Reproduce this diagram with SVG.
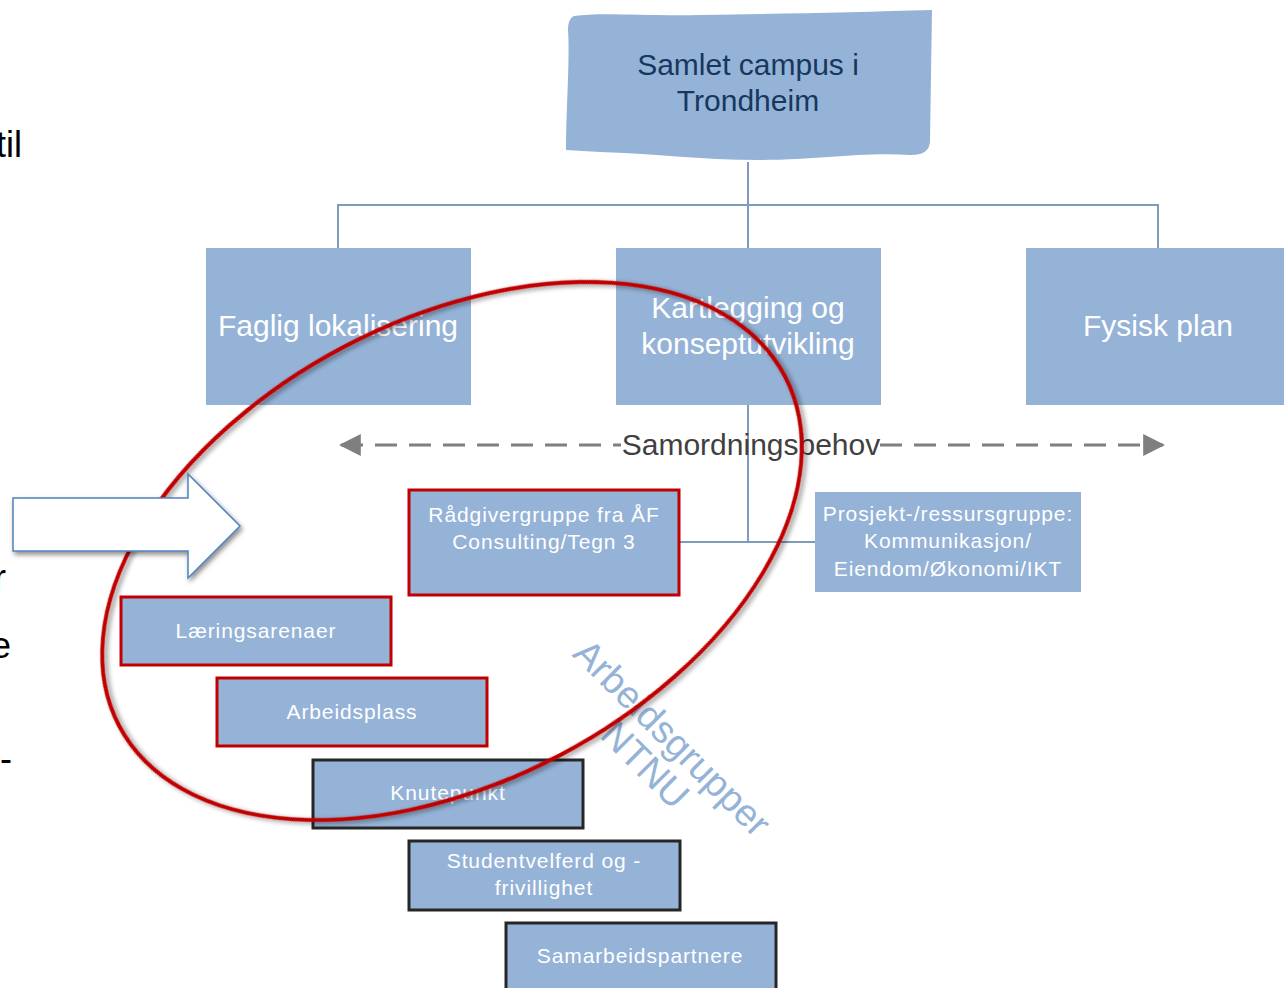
<svg xmlns="http://www.w3.org/2000/svg" width="1284" height="988" viewBox="0 0 1284 988">
<defs>
<filter id="sh" x="-20%" y="-20%" width="140%" height="140%">
<feGaussianBlur in="SourceAlpha" stdDeviation="2.5"/>
<feOffset dx="2" dy="3" result="b"/>
<feComponentTransfer><feFuncA type="linear" slope="0.45"/></feComponentTransfer>
<feMerge><feMergeNode/><feMergeNode in="SourceGraphic"/></feMerge>
</filter>
<marker id="tri" viewBox="0 0 10 10" refX="9" refY="5" markerWidth="22" markerHeight="22" markerUnits="userSpaceOnUse" orient="auto-start-reverse">
<path d="M0,0 L10,5 L0,10 Z" fill="#7F7F7F"/>
</marker>
</defs>
<style>
.box{fill:#95B3D7}
.red{fill:#95B3D7;stroke:#C00000;stroke-width:3}
.blk{fill:#95B3D7;stroke:#262626;stroke-width:3}
.conn{stroke:#7E9BBB;stroke-width:2;fill:none}
.t28{font-family:"Liberation Sans",Arial,sans-serif;font-size:30px;fill:#FFFFFF;text-anchor:middle}
.t20{font-family:"Liberation Sans",Arial,sans-serif;font-size:21px;letter-spacing:0.9px;fill:#FFFFFF;text-anchor:middle}
.side{font-family:"Liberation Sans",Arial,sans-serif;font-size:36px;fill:#000000;text-anchor:end}
</style>
<rect width="1284" height="988" fill="#FFFFFF"/>

<text class="side" x="22" y="157">til</text>
<text class="side" x="6" y="590">r</text>
<text class="side" x="11" y="658">e</text>
<text class="side" x="12" y="771">-</text>

<g id="connectors">
<line class="conn" x1="748" y1="162" x2="748" y2="248"/>
<polyline class="conn" points="338,248 338,205 1158,205 1158,248"/>
<line class="conn" x1="748" y1="405" x2="748" y2="542"/>
<line class="conn" x1="679" y1="542" x2="815" y2="542"/>
<g id="samordning">
<line x1="341" y1="445" x2="621" y2="445" stroke="#7F7F7F" stroke-width="3" stroke-dasharray="22,12" marker-start="url(#tri)"/>
<line x1="880" y1="445" x2="1163" y2="445" stroke="#7F7F7F" stroke-width="3" stroke-dasharray="22,12" marker-end="url(#tri)"/>
<text x="751" y="455" font-family="&quot;Liberation Sans&quot;,Arial,sans-serif" font-size="30" fill="#404040" text-anchor="middle">Samordningsbehov</text>
</g>
</g>

<g id="top">
<path d="M574,16 C600,12 640,16 700,15 C780,14 860,12 932,10 L930,140 C930,152 922,155 910,155 C860,152 820,160 760,160 C700,160 650,153 600,152 L566,150 C566,110 570,60 568,30 C568,22 570,18 574,16 Z" fill="#95B3D7"/>
<text x="748" y="75" font-family="&quot;Liberation Sans&quot;,Arial,sans-serif" font-size="30" fill="#17375E" text-anchor="middle">Samlet campus i</text>
<text x="748" y="111" font-family="&quot;Liberation Sans&quot;,Arial,sans-serif" font-size="30" fill="#17375E" text-anchor="middle">Trondheim</text>
</g>

<g id="faglig">
<rect class="box" x="206" y="248" width="265" height="157"/>
<text class="t28" x="338" y="336">Faglig lokalisering</text>
</g>
<g id="kartlegging">
<rect class="box" x="616" y="248" width="265" height="157"/>
<text class="t28" x="748" y="318">Kartlegging og</text>
<text class="t28" x="748" y="354">konseptutvikling</text>
</g>
<g id="fysisk">
<rect class="box" x="1026" y="248" width="260" height="157"/>
<text class="t28" x="1158" y="336">Fysisk plan</text>
</g>

<g id="radgiver">
<rect class="red" x="409" y="490" width="270" height="105"/>
<text class="t20" x="544" y="522">Rådgivergruppe fra ÅF</text>
<text class="t20" x="544" y="549">Consulting/Tegn 3</text>
</g>
<g id="prosjekt">
<rect class="box" x="815" y="492" width="266" height="100"/>
<text class="t20" x="948" y="521">Prosjekt-/ressursgruppe:</text>
<text class="t20" x="948" y="548">Kommunikasjon/</text>
<text class="t20" x="948" y="576">Eiendom/Økonomi/IKT</text>
</g>
<g id="laering">
<rect class="red" x="121" y="597" width="270" height="68"/>
<text class="t20" x="256" y="638">Læringsarenaer</text>
</g>
<g id="arbeidsplass">
<rect class="red" x="217" y="678" width="270" height="68"/>
<text class="t20" x="352" y="719">Arbeidsplass</text>
</g>
<g id="knutepunkt">
<rect class="blk" x="313" y="760" width="270" height="68"/>
<text class="t20" x="448" y="800">Knutepunkt</text>
</g>
<g id="studentvelferd">
<rect class="blk" x="409" y="841" width="271" height="69"/>
<text class="t20" x="544" y="868">Studentvelferd og -</text>
<text class="t20" x="544" y="895">frivillighet</text>
</g>
<g id="samarbeid">
<rect class="blk" x="506" y="923" width="270" height="70"/>
<text class="t20" x="640" y="963">Samarbeidspartnere</text>
</g>

<text transform="translate(663,747) rotate(45)" font-family="&quot;Liberation Sans&quot;,Arial,sans-serif" font-size="38" fill="#95B3D7" text-anchor="middle"><tspan x="0" y="0">Arbeidsgrupper</tspan><tspan x="0" y="38">NTNU</tspan></text>

<ellipse id="ellipse" cx="452" cy="551" rx="376" ry="231" transform="rotate(-27.7 452 551)" fill="none" stroke="#C00000" stroke-width="4" filter="url(#sh)"/>

<g id="arrow" filter="url(#sh)">
<path d="M13,498 L188,498 L188,474 L240,526 L188,578 L188,551 L13,551 Z" fill="#FFFFFF" stroke="#4F81BD" stroke-width="1.5"/>
</g>
</svg>
